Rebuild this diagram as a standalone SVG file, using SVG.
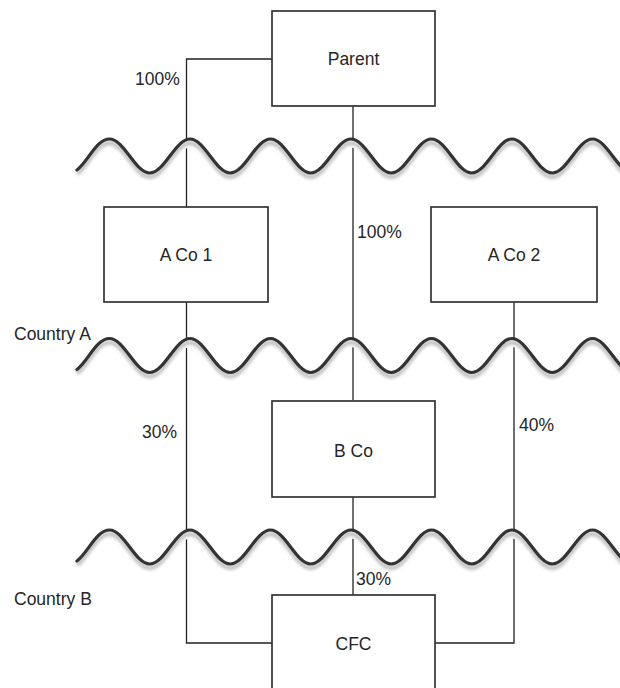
<svg xmlns="http://www.w3.org/2000/svg" xmlns:xlink="http://www.w3.org/1999/xlink" width="620" height="688" viewBox="0 0 620 688">
  <style>
    .box { fill: #ffffff; stroke: #333333; stroke-width: 1.7; }
    .conn { fill: none; stroke: #222222; stroke-width: 1.3; }
    .txt { font-family: "Liberation Sans", Arial, sans-serif; font-size: 17.5px; fill: #262626; }
    .mid { text-anchor: middle; }
    .wv-white { fill: none; stroke: #ffffff; stroke-width: 7; }
    .wv-gray { fill: none; stroke: #b0b0b0; stroke-width: 4.5; opacity: 0.75; }
    .wv-main { fill: none; stroke: #333333; stroke-width: 3.2; stroke-linecap: round; }
  </style>
  <defs>
    <filter id="blur" x="-5%" y="-50%" width="110%" height="200%">
      <feGaussianBlur stdDeviation="1.6"/>
    </filter>
    <path id="wave" d="M77,14 C87.8,5.9 96.5,-17 109.5,-17 c14.66,0 25.59,34 40.25,34 s25.59,-34 40.25,-34 s25.59,34 40.25,34 s25.59,-34 40.25,-34 s25.59,34 40.25,34 s25.59,-34 40.25,-34 s25.59,34 40.25,34 s25.59,-34 40.25,-34 s25.59,34 40.25,34 s25.59,-34 40.25,-34 s25.59,34 40.25,34 s25.59,-34 40.25,-34 s25.59,34 40.25,34"/>
  </defs>
  <rect x="0" y="0" width="620" height="688" fill="#ffffff"/>

  <g id="connectors">
    <polyline class="conn" points="272,59 186.5,59 186.5,207"/>
    <line class="conn" x1="353" y1="106" x2="353" y2="400"/>
    <polyline class="conn" points="186.5,302 186.5,643 272,643"/>
    <polyline class="conn" points="514,302 514,643 435,643"/>
    <line class="conn" x1="353" y1="497" x2="353" y2="595"/>
  </g>

  <g id="borders">
    <use xlink:href="#wave" class="wv-white" transform="translate(0,161)"/>
    <use xlink:href="#wave" class="wv-gray" filter="url(#blur)" transform="translate(0,160)"/>
    <use xlink:href="#wave" class="wv-main" transform="translate(0,156)"/>
    <use xlink:href="#wave" class="wv-white" transform="translate(0,360.5)"/>
    <use xlink:href="#wave" class="wv-gray" filter="url(#blur)" transform="translate(0,359.5)"/>
    <use xlink:href="#wave" class="wv-main" transform="translate(0,355.5)"/>
    <use xlink:href="#wave" class="wv-white" transform="translate(0,552)"/>
    <use xlink:href="#wave" class="wv-gray" filter="url(#blur)" transform="translate(0,551)"/>
    <use xlink:href="#wave" class="wv-main" transform="translate(0,547)"/>
  </g>

  <g id="connector-labels">
    <text class="txt" x="135" y="85">100%</text>
    <text class="txt" x="357" y="238">100%</text>
    <text class="txt" x="142" y="438">30%</text>
    <text class="txt" x="519" y="431">40%</text>
    <text class="txt" x="356" y="585">30%</text>
  </g>

  <g id="country-labels">
    <text class="txt" x="14" y="340">Country A</text>
    <text class="txt" x="14" y="605">Country B</text>
  </g>

  <g id="parent">
    <rect class="box" x="272" y="11" width="163" height="95"/>
    <text class="txt mid" x="353.5" y="65">Parent</text>
  </g>
  <g id="aco1">
    <rect class="box" x="104" y="207" width="164" height="95"/>
    <text class="txt mid" x="186" y="261">A Co 1</text>
  </g>
  <g id="aco2">
    <rect class="box" x="431" y="207" width="166" height="95"/>
    <text class="txt mid" x="514" y="261">A Co 2</text>
  </g>
  <g id="bco">
    <rect class="box" x="272" y="401" width="163" height="96"/>
    <text class="txt mid" x="353.5" y="457">B Co</text>
  </g>
  <g id="cfc">
    <rect class="box" x="272" y="595" width="163" height="100"/>
    <text class="txt mid" x="353.5" y="650">CFC</text>
  </g>
</svg>
